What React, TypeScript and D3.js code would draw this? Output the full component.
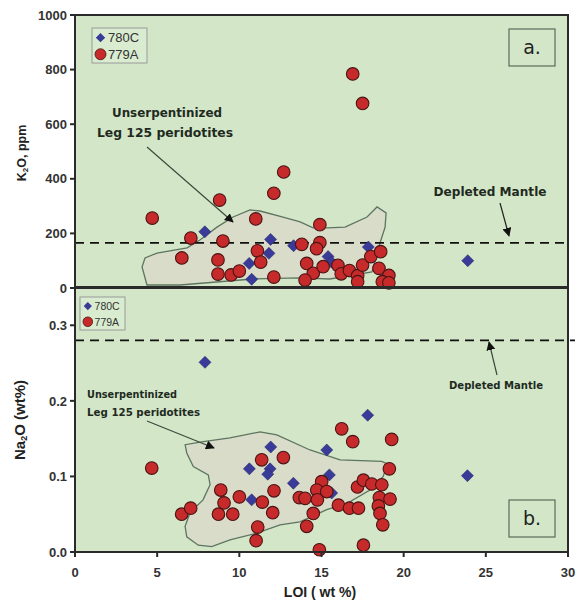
import React from "react";
import * as d3 from "d3";

// LOI (wt %) vs K2O (ppm), hole 780C
const K2O_780C: [number, number][] = [
  [7.9, 206], [11.9, 178], [11.8, 127], [10.6, 90], [10.75, 32], [13.3, 155],
  [15.4, 115], [15.6, 95], [17.85, 150], [23.9, 100],
];

// LOI (wt %) vs K2O (ppm), hole 779A
const K2O_779A: [number, number][] = [
  [4.7, 256], [7.05, 183], [6.5, 110], [8.8, 322], [9.0, 172], [8.7, 103],
  [8.7, 51], [9.5, 48], [10.0, 62], [11.0, 253], [11.1, 136], [11.3, 95],
  [12.1, 347], [12.7, 425], [12.1, 40], [16.9, 784], [17.5, 676], [14.9, 232],
  [13.8, 160], [14.9, 166], [14.7, 144], [14.1, 90], [14.5, 54], [14.0, 29],
  [15.1, 78], [16.0, 83], [16.2, 52], [16.7, 64], [17.2, 45], [17.2, 23],
  [17.5, 84], [18.0, 115], [18.6, 133], [18.5, 72], [19.1, 46], [18.7, 23],
  [19.1, 19],
];

// LOI (wt %) vs Na2O (wt %), hole 780C
const NA2O_780C: [number, number][] = [
  [7.91, 0.251], [10.61, 0.11], [11.91, 0.139], [11.87, 0.11], [11.73, 0.103],
  [10.75, 0.069], [13.29, 0.091], [15.32, 0.135], [15.48, 0.102], [15.62, 0.078],
  [17.81, 0.181], [23.88, 0.101],
];

// LOI (wt %) vs Na2O (wt %), hole 779A
const NA2O_779A: [number, number][] = [
  [4.67, 0.111], [6.49, 0.05], [7.04, 0.058], [8.87, 0.082], [9.07, 0.065],
  [8.73, 0.05], [9.6, 0.05], [10.0, 0.073], [11.36, 0.122], [12.68, 0.125],
  [12.11, 0.081], [11.4, 0.066], [12.03, 0.052], [11.12, 0.033], [11.02, 0.015],
  [16.23, 0.163], [16.9, 0.146], [19.27, 0.149], [19.13, 0.11], [15.01, 0.093],
  [14.71, 0.082], [15.32, 0.08], [13.65, 0.072], [14.0, 0.071], [14.75, 0.069],
  [14.5, 0.051], [14.1, 0.034], [14.87, 0.003], [16.03, 0.062], [16.7, 0.058],
  [17.25, 0.058], [17.19, 0.086], [17.55, 0.095], [18.06, 0.09], [18.67, 0.089],
  [18.52, 0.072], [19.17, 0.07], [18.46, 0.061], [18.56, 0.051], [18.73, 0.036],
  [17.55, 0.009],
];

// Field of unserpentinized Leg 125 peridotites
const LEG125_K2O: [number, number][] = [
  [4.38, 11], [4.08, 77], [4.26, 110], [4.99, 128], [6.82, 147], [7.6, 176],
  [8.64, 223], [9.62, 260], [10.65, 286], [11.26, 282], [12.66, 260], [13.7, 242],
  [14.49, 220], [15.34, 220], [16.43, 223], [17.77, 260], [18.38, 297], [18.93, 275],
  [18.87, 223], [18.56, 165], [18.07, 59], [15.5, 33], [13.7, 37], [10.83, 33],
  [6.39, 11],
];

const LEG125_NA2O: [number, number][] = [
  [6.7, 0.142], [6.8, 0.131], [7.2, 0.113], [8.11, 0.102], [8.22, 0.089],
  [7.79, 0.069], [7.0, 0.052], [6.7, 0.034], [6.8, 0.02], [7.5, 0.009],
  [8.32, 0.007], [9.43, 0.016], [11.06, 0.025], [12.48, 0.036], [13.69, 0.04],
  [15.32, 0.056], [16.54, 0.064], [17.95, 0.082], [18.76, 0.1], [18.97, 0.117],
  [18.67, 0.12], [16.13, 0.122], [14.3, 0.135], [12.28, 0.155], [11.26, 0.159],
  [9.43, 0.151], [7.81, 0.146],
];

// Depleted-mantle reference values
const DM_K2O = 165;
const DM_NA2O = 0.28;

const X_TICKS = [0, 5, 10, 15, 20, 25, 30];
const K2O_TICKS = [0, 200, 400, 600, 800, 1000];
const NA2O_TICKS = [0, 0.1, 0.2, 0.3];

const SERIES_LABELS = ["780C", "779A"];

const BG = "#d3e7c8";
const FIELD = "#d8dcc9";
const FIELD_STROKE = "#5d7560";
const RED = "#c62a2a";
const RED_STROKE = "#4a1414";
const BLUE = "#3a3a98";
const AXIS = "#2a2a2a";
const TICK_FONT = "'Liberation Sans', Arial, sans-serif";
const NOTE_FONT = "'DejaVu Sans', sans-serif";

const left = 75;
const right = 568;
const top = 15;
const mid = 287.5;
const bottom = 552;

const x = d3.scaleLinear().domain([0, 30]).range([left, right]);
const yK = d3.scaleLinear().domain([0, 1000]).range([288, top]);
const yN = d3.scaleLinear().domain([0, 0.35]).range([bottom, mid]);

function diamond(cx: number, cy: number, r: number) {
  return `M${cx},${cy - r}L${cx + r},${cy}L${cx},${cy + r}L${cx - r},${cy}Z`;
}

function Points({
  blue,
  red,
  y,
}: {
  blue: [number, number][];
  red: [number, number][];
  y: d3.ScaleLinear<number, number>;
}) {
  return (
    <g>
      {blue.map((d, i) => (
        <path key={"b" + i} d={diamond(x(d[0]), y(d[1]), 6)} fill={BLUE} stroke="#2a2a70" strokeWidth={0.6} />
      ))}
      {red.map((d, i) => (
        <circle key={"r" + i} cx={x(d[0])} cy={y(d[1])} r={6.3} fill={RED} stroke={RED_STROKE} strokeWidth={1.1} />
      ))}
    </g>
  );
}

function Field({ pts, y }: { pts: [number, number][]; y: d3.ScaleLinear<number, number> }) {
  const line = d3
    .line<[number, number]>()
    .x((d) => x(d[0]))
    .y((d) => y(d[1]));
  return <path d={(line(pts) || "") + "Z"} fill={FIELD} stroke={FIELD_STROKE} strokeWidth={1.3} />;
}

function Legend({ x0, y0, w, h, fs, r }: { x0: number; y0: number; w: number; h: number; fs: number; r: number }) {
  const row = h / 2;
  return (
    <g>
      <rect x={x0} y={y0} width={w} height={h} fill="#d9ecd0" stroke="#9a9a9a" strokeWidth={1} />
      <path d={diamond(x0 + r + 3, y0 + row * 0.55, r * 0.85)} fill={BLUE} />
      <circle cx={x0 + r + 3} cy={y0 + row * 1.5} r={r} fill={RED} stroke={RED_STROKE} strokeWidth={0.8} />
      <text x={x0 + 2 * r + 5} y={y0 + row * 0.55} dy="0.36em" fontFamily={TICK_FONT} fontSize={fs} fill="#333">
        {SERIES_LABELS[0]}
      </text>
      <text x={x0 + 2 * r + 5} y={y0 + row * 1.5} dy="0.36em" fontFamily={TICK_FONT} fontSize={fs} fill="#333">
        {SERIES_LABELS[1]}
      </text>
    </g>
  );
}

function PanelTag({ x0, y0, label }: { x0: number; y0: number; label: string }) {
  return (
    <g>
      <rect x={x0} y={y0} width={46} height={37} fill="none" stroke="#5a6a5a" strokeWidth={1.2} />
      <text x={x0 + 23} y={y0 + 18.5} dy="0.36em" textAnchor="middle" fontFamily={NOTE_FONT} fontSize={19} fill="#222">
        {label}
      </text>
    </g>
  );
}

export default function App() {
  return (
    <svg
      width={584}
      height={603}
      style={{ position: "absolute", left: 0, top: 0, background: "#ffffff" }}
    >
      <defs>
        <marker id="head" viewBox="0 0 10 10" refX="9" refY="5" markerWidth="9" markerHeight="9" markerUnits="userSpaceOnUse" orient="auto">
          <path d="M0,0L10,5L0,10Z" fill="#111" />
        </marker>
      </defs>

      {/* plotting areas */}
      <rect x={left} y={top} width={right - left} height={mid - top} fill={BG} />
      <rect x={left} y={mid} width={right - left} height={bottom - mid} fill={BG} />

      {/* panel a: K2O */}
      <Field pts={LEG125_K2O} y={yK} />
      <line x1={left} x2={right} y1={yK(DM_K2O)} y2={yK(DM_K2O)} stroke="#111" strokeWidth={1.8} strokeDasharray="9 6" />
      <Points blue={K2O_780C} red={K2O_779A} y={yK} />

      {/* panel b: Na2O */}
      <Field pts={LEG125_NA2O} y={yN} />
      <line x1={left} x2={right + 7} y1={yN(DM_NA2O)} y2={yN(DM_NA2O)} stroke="#111" strokeWidth={1.8} strokeDasharray="9 6" />
      <Points blue={NA2O_780C} red={NA2O_779A} y={yN} />

      {/* frames */}
      <rect x={left} y={top} width={right - left} height={bottom - top} fill="none" stroke={AXIS} strokeWidth={2} />
      <line x1={left} x2={right} y1={mid} y2={mid} stroke={AXIS} strokeWidth={3} />

      {/* y ticks, panel a */}
      {K2O_TICKS.map((t) => (
        <g key={"k" + t}>
          <line x1={left - 5} x2={left} y1={yK(t)} y2={yK(t)} stroke={AXIS} strokeWidth={2} />
          <text x={left - 8} y={yK(t)} dy="0.36em" textAnchor="end" fontFamily={TICK_FONT} fontWeight="bold" fontSize={13} fill="#333">
            {t}
          </text>
        </g>
      ))}

      {/* y ticks, panel b */}
      {NA2O_TICKS.map((t) => (
        <g key={"n" + t}>
          <line x1={left - 5} x2={left} y1={yN(t)} y2={yN(t)} stroke={AXIS} strokeWidth={2} />
          <text x={left - 8} y={yN(t)} dy="0.36em" textAnchor="end" fontFamily={TICK_FONT} fontWeight="bold" fontSize={13} fill="#333">
            {d3.format(".1f")(t)}
          </text>
        </g>
      ))}

      {/* x ticks */}
      {X_TICKS.map((t) => (
        <g key={"x" + t}>
          <line x1={x(t)} x2={x(t)} y1={bottom} y2={bottom + 5} stroke={AXIS} strokeWidth={2} />
          <text x={x(t)} y={bottom + 25} textAnchor="middle" fontFamily={TICK_FONT} fontWeight="bold" fontSize={13} fill="#333">
            {t}
          </text>
        </g>
      ))}

      {/* axis titles */}
      <text x={320} y={597} textAnchor="middle" fontFamily={TICK_FONT} fontWeight="bold" fontSize={14} fill="#222">
        LOI ( wt %)
      </text>
      <text transform="translate(26,153) rotate(-90)" textAnchor="middle" fontFamily={TICK_FONT} fontWeight="bold" fontSize={12.5} fill="#222">
        K<tspan fontSize={8} dy={2}>2</tspan>
        <tspan dy={-2}>O, ppm</tspan>
      </text>
      <text transform="translate(25,420) rotate(-90)" textAnchor="middle" fontFamily={TICK_FONT} fontWeight="bold" fontSize={15} fill="#222">
        Na<tspan fontSize={9} dy={2}>2</tspan>
        <tspan dy={-2}>O (wt%)</tspan>
      </text>

      {/* legends and panel tags */}
      <Legend x0={92} y0={28} w={55} h={35} fs={13} r={5.5} />
      <Legend x0={80} y0={297} w={45} h={33} fs={10.5} r={4.8} />
      <PanelTag x0={509} y0={29} label="a." />
      <PanelTag x0={509} y0={500} label="b." />

      {/* annotations, panel a */}
      <text x={167} y={117} textAnchor="middle" fontFamily={NOTE_FONT} fontWeight="bold" fontSize={12} fill="#1f2a1f" textLength={110} lengthAdjust="spacingAndGlyphs">
        Unserpentinized
      </text>
      <text x={165} y={137} textAnchor="middle" fontFamily={NOTE_FONT} fontWeight="bold" fontSize={12} fill="#1f2a1f" textLength={136} lengthAdjust="spacingAndGlyphs">
        Leg 125 peridotites
      </text>
      <line x1={147} y1={147} x2={233} y2={222} stroke="#3c4a3c" strokeWidth={1.2} markerEnd="url(#head)" />
      <text x={490} y={196} textAnchor="middle" fontFamily={NOTE_FONT} fontWeight="bold" fontSize={12} fill="#1f2a1f" textLength={113} lengthAdjust="spacingAndGlyphs">
        Depleted Mantle
      </text>
      <line x1={500} y1={203} x2={509} y2={236} stroke="#222" strokeWidth={1.2} markerEnd="url(#head)" />

      {/* annotations, panel b */}
      <text x={87} y={398} fontFamily={NOTE_FONT} fontWeight="bold" fontSize={10} fill="#1f2a1f" textLength={90} lengthAdjust="spacingAndGlyphs">
        Unserpentinized
      </text>
      <text x={87} y={416} fontFamily={NOTE_FONT} fontWeight="bold" fontSize={10} fill="#1f2a1f" textLength={113} lengthAdjust="spacingAndGlyphs">
        Leg 125 peridotites
      </text>
      <line x1={147} y1={421} x2={214} y2={448} stroke="#3c4a3c" strokeWidth={1.2} markerEnd="url(#head)" />
      <text x={449} y={389} fontFamily={NOTE_FONT} fontWeight="bold" fontSize={10} fill="#1f2a1f" textLength={94} lengthAdjust="spacingAndGlyphs">
        Depleted Mantle
      </text>
      <line x1={497} y1={375} x2={489} y2={342} stroke="#3c4a3c" strokeWidth={1.2} markerEnd="url(#head)" />
    </svg>
  );
}
